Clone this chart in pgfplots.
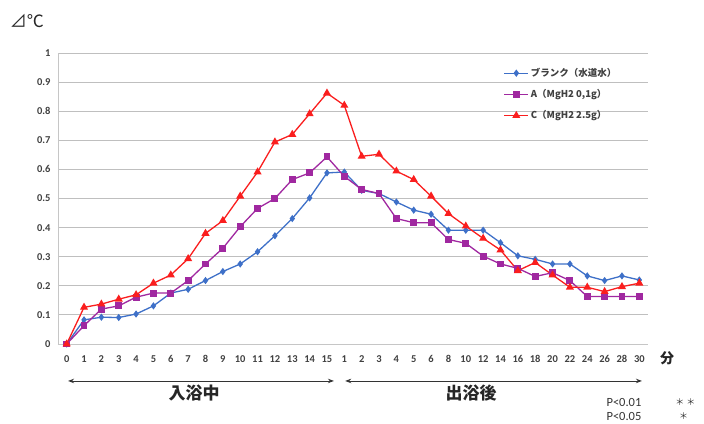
\documentclass[border=0pt]{standalone}
\usepackage{pgfplots}
\pgfplotsset{compat=1.18}
\usepackage{fontspec}
\setmainfont{Carlito}
\newfontfamily\jp{Noto Sans CJK JP}
\usetikzlibrary{arrows.meta}

\definecolor{cblue}{RGB}{62,112,200}
\definecolor{cpurple}{RGB}{160,40,160}
\definecolor{cred}{RGB}{250,30,30}

\begin{document}
\begin{tikzpicture}
\useasboundingbox (-58pt,-79pt) rectangle (646pt,344pt);
\begin{axis}[
    scale only axis,
    width=590pt, height=291pt,
    xmin=-0.5, xmax=33.5, ymin=0, ymax=1,
    axis lines=left,
    axis line style={-, draw=gray!45, line width=0.8pt},
    ymajorgrids=true,
    grid style={gray!50, line width=0.9pt},
    major tick length=0pt,
    xtick={0,1,...,33},
    xticklabels={0,1,2,3,4,5,6,7,8,9,10,11,12,13,14,15,1,2,3,4,5,6,8,10,12,14,16,18,20,22,24,26,28,30},
    ytick={0,0.1,0.2,0.3,0.4,0.5,0.6,0.7,0.8,0.9,1},
    /pgf/number format/assume math mode=true,
    /pgf/number format/fixed,
    x tick label style={font=\bfseries\fontsize{10.5}{11}\selectfont, yshift=-8pt, text=black!75},
    y tick label style={font=\bfseries\fontsize{10.5}{11}\selectfont, xshift=-4pt, text=black!75},
    clip=false,
    legend cell align=left,
    legend style={at={(axis cs:25,0.962)}, anchor=north west, draw=none, fill=none,
        font=\jp\bfseries\fontsize{9.5}{10}\selectfont, row sep=7.5pt, text=black!75},
    legend image code/.code={\draw[mark repeat=2,mark phase=2,#1]
        plot coordinates {(0cm,0cm) (0.42cm,0cm) (0.84cm,0cm)};},
]
% ブランク（水道水）
\addplot[color=cblue, line width=1.3pt, mark=diamond*, mark size=2.6pt] coordinates {
(0,0) (1,0.083) (2,0.092) (3,0.091) (4,0.103) (5,0.131) (6,0.175) (7,0.188)
(8,0.218) (9,0.249) (10,0.275) (11,0.317) (12,0.372) (13,0.431) (14,0.502) (15,0.588)
(16,0.591) (17,0.528) (18,0.517) (19,0.488) (20,0.460) (21,0.446) (22,0.391) (23,0.391)
(24,0.391) (25,0.348) (26,0.303) (27,0.291) (28,0.275) (29,0.275) (30,0.234) (31,0.218)
(32,0.234) (33,0.220)
};
% A（MgH2 0,1g）
\addplot[color=cpurple, line width=1.3pt, mark=square*, mark size=2.8pt] coordinates {
(0,0) (1,0.063) (2,0.120) (3,0.131) (4,0.161) (5,0.175) (6,0.175) (7,0.218)
(8,0.275) (9,0.329) (10,0.403) (11,0.466) (12,0.500) (13,0.565) (14,0.588) (15,0.643)
(16,0.576) (17,0.531) (18,0.517) (19,0.431) (20,0.417) (21,0.417) (22,0.359) (23,0.346)
(24,0.302) (25,0.275) (26,0.260) (27,0.232) (28,0.245) (29,0.218) (30,0.163) (31,0.163)
(32,0.163) (33,0.163)
};
% C（MgH2 2.5g）
\addplot[color=cred, line width=1.3pt, mark=triangle*, mark size=3.4pt] coordinates {
(0,0) (1,0.126) (2,0.137) (3,0.154) (4,0.169) (5,0.209) (6,0.237) (7,0.293)
(8,0.380) (9,0.424) (10,0.508) (11,0.591) (12,0.694) (13,0.720) (14,0.791) (15,0.862)
(16,0.820) (17,0.645) (18,0.652) (19,0.594) (20,0.565) (21,0.508) (22,0.448) (23,0.405)
(24,0.363) (25,0.323) (26,0.252) (27,0.280) (28,0.237) (29,0.195) (30,0.195) (31,0.180)
(32,0.197) (33,0.209)
};
\legend{ブランク（水道水）, {A（MgH2 0,1g）}, C（MgH2 2.5g）}

% annotations
\node[font=\jp\fontsize{17}{18}\selectfont, text=black!85] at (axis cs:-2.3,1.11) {⊿℃};
\node[font=\jp\bfseries\fontsize{14}{15}\selectfont, text=black!85] at (axis cs:34.6,-0.05) {分};
\draw[{Stealth[length=6pt]}-{Stealth[length=6pt]}, line width=0.9pt, black!80]
    (axis cs:0.08,-0.127) -- (axis cs:15.4,-0.127);
\draw[{Stealth[length=6pt]}-{Stealth[length=6pt]}, line width=0.9pt, black!80]
    (axis cs:16.05,-0.127) -- (axis cs:33.15,-0.127);
\node[font=\jp\bfseries\fontsize{17}{18}\selectfont, text=black!85] at (axis cs:7.34,-0.168) {入浴中};
\node[font=\jp\bfseries\fontsize{17}{18}\selectfont, text=black!85] at (axis cs:23.3,-0.168) {出浴後};
\node[font=\fontsize{12.5}{13}\selectfont, anchor=west, text=black!80, inner sep=0pt] at (axis cs:31.1,-0.2) {P<0.01};
\node[font=\fontsize{12.5}{13}\selectfont, anchor=west, text=black!80, inner sep=0pt] at (axis cs:31.1,-0.248) {P<0.05};
\node[font=\jp\fontsize{9}{10}\selectfont, text=black!80, inner sep=0pt] at (axis cs:35.65,-0.2) {＊ ＊};
\node[font=\jp\fontsize{9}{10}\selectfont, text=black!80, inner sep=0pt] at (axis cs:35.55,-0.248) {＊};
\end{axis}
\end{tikzpicture}
\end{document}
